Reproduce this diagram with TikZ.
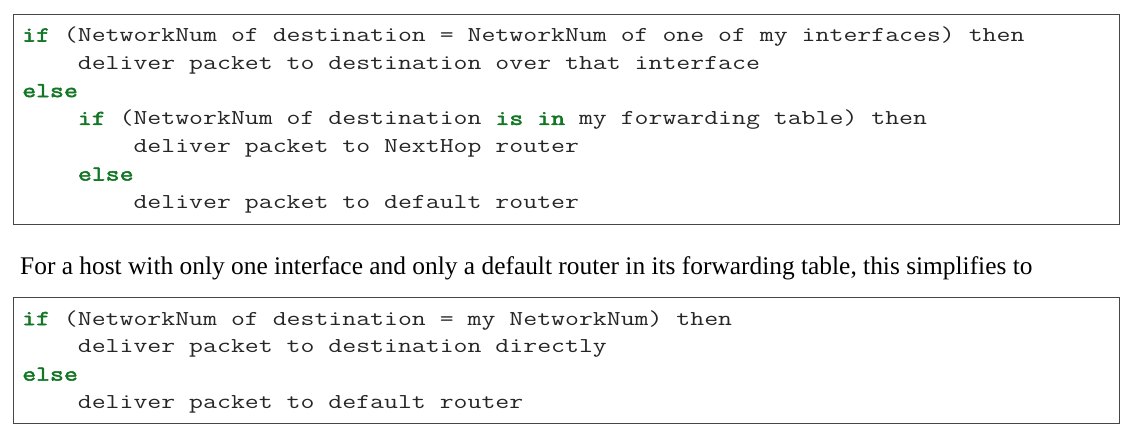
\documentclass[tikz,border=0pt]{standalone}
\usepackage{fontspec}
\setmainfont{Liberation Serif}
\newfontfamily\codefont[FakeStretch=1.275]{Latin Modern Mono}
\newfontfamily\kwfont[FakeStretch=1.275,FakeBold=2.5]{Latin Modern Mono}
\definecolor{kwgreen}{RGB}{18,118,36}
\definecolor{boxline}{RGB}{70,70,70}
\newcommand{\kw}[1]{{\kwfont\textcolor{kwgreen}{#1}}}
\newcommand{\indA}{\phantom{xxxx}}
\newcommand{\indB}{\phantom{xxxxxxxx}}
\tikzset{
  codeline/.style={anchor=base west, inner sep=0pt, font=\codefont\fontsize{21.2}{26}\selectfont, text=black!85},
  prose/.style={anchor=base west, inner sep=0pt, font=\fontsize{25.4}{29}\selectfont},
  codebox/.style={draw=boxline, line width=1pt}
}
\begin{document}
\begin{tikzpicture}[x=1pt,y=-1pt]
\useasboundingbox (0,0) rectangle (1129,440);
\draw[codebox] (13.5,14.5) rectangle (1119.5,224.5);
\node[codeline] (a1) at (22,41.5) {\kw{if} (NetworkNum of destination = NetworkNum of one of my interfaces) then};
\node[codeline] (a2) at (22,69.3) {\indA deliver packet to destination over that interface};
\node[codeline] (a3) at (22,97.1) {\kw{else}};
\node[codeline] (a4) at (22,124.9) {\indA\kw{if} (NetworkNum of destination \kw{is} \kw{in} my forwarding table) then};
\node[codeline] (a5) at (22,152.7) {\indB deliver packet to NextHop router};
\node[codeline] (a6) at (22,180.5) {\indA\kw{else}};
\node[codeline] (a7) at (22,208.3) {\indB deliver packet to default router};
\node[prose] (p) at (20,274) {For a host with only one interface and only a default router in its forwarding table, this simplifies to};
\draw[codebox] (13.5,297.5) rectangle (1119.5,423.5);
\node[codeline] (b1) at (22,325) {\kw{if} (NetworkNum of destination = my NetworkNum) then};
\node[codeline] (b2) at (22,352.8) {\indA deliver packet to destination directly};
\node[codeline] (b3) at (22,380.6) {\kw{else}};
\node[codeline] (b4) at (22,408.4) {\indA deliver packet to default router};
\end{tikzpicture}
\end{document}
